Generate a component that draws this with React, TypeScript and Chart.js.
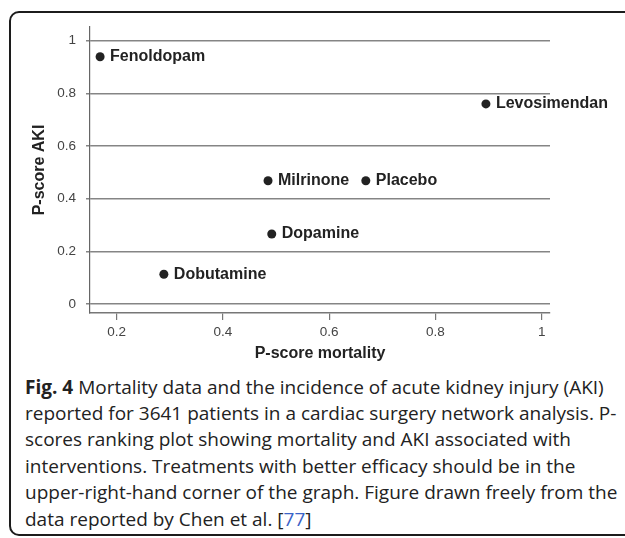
import React, { useEffect, useRef } from "react";
import { Chart, registerables } from "chart.js";

Chart.register(...registerables);

const treatments = ["Fenoldopam", "Levosimendan", "Milrinone", "Placebo", "Dopamine", "Dobutamine"];
const pScoreMortality = [0.169, 0.895, 0.485, 0.669, 0.492, 0.289];
const pScoreAKI = [0.939, 0.76, 0.468, 0.468, 0.266, 0.113];
const xTicks = [0.2, 0.4, 0.6, 0.8, 1];
const yTicks = [0, 0.2, 0.4, 0.6, 0.8, 1];
const xTitle = "P-score mortality";
const yTitle = "P-score AKI";

const captionLines = [
  "Mortality data and the incidence of acute kidney injury (AKI)",
  "reported for 3641 patients in a cardiac surgery network analysis. P-",
  "scores ranking plot showing mortality and AKI associated with",
  "interventions. Treatments with better efficacy should be in the",
  "upper-right-hand corner of the graph. Figure drawn freely from the",
  "data reported by Chen et al. ",
];

const FONT = "'Liberation Sans', Arial, sans-serif";

const pointLabels = {
  id: "pointLabels",
  afterDatasetsDraw(chart: any) {
    const ctx = chart.ctx;
    const meta = chart.getDatasetMeta(0);
    ctx.save();
    ctx.font = `bold 16px ${FONT}`;
    ctx.fillStyle = "#222";
    ctx.textAlign = "left";
    ctx.textBaseline = "middle";
    meta.data.forEach((pt: any, i: number) => {
      ctx.fillText(treatments[i], pt.x + 10, pt.y);
    });
    ctx.restore();
  },
};

const fmt = (v: number) => String(Math.round(v * 10) / 10);

export default function App() {
  const ref = useRef<HTMLCanvasElement>(null);
  useEffect(() => {
    if (!ref.current) return;
    const chart = new Chart(ref.current, {
      type: "scatter",
      data: {
        datasets: [
          {
            data: pScoreMortality.map((x, i) => ({ x, y: pScoreAKI[i] })),
            backgroundColor: "#222",
            borderWidth: 0,
            pointRadius: 4.5,
          },
        ],
      },
      options: {
        animation: false,
        responsive: false,
        devicePixelRatio: 1,
        layout: { padding: { left: 0, top: 27, right: 75, bottom: 0 } },
        plugins: { legend: { display: false }, tooltip: { enabled: false } },
        scales: {
          x: {
            type: "linear",
            position: "bottom",
            min: 0.15,
            max: 1.0156,
            afterBuildTicks: (s: any) => {
              s.ticks = xTicks.map((v) => ({ value: v }));
            },
            afterFit: (s: any) => {
              s.height = 57;
            },
            grid: { drawOnChartArea: false, drawTicks: true, tickLength: 7, color: "#777", lineWidth: 1.2 },
            border: { display: true, color: "#777", width: 1.5 },
            ticks: { font: { family: FONT, size: 13.5 }, color: "#444", padding: 4, callback: (v: any) => fmt(v), maxRotation: 0 },
            title: { display: true, text: xTitle, font: { family: FONT, size: 16, weight: "bold" }, color: "#222", padding: { top: 0, bottom: 7 } },
          },
          y: {
            type: "linear",
            position: "left",
            min: -0.0342,
            max: 1.052,
            afterBuildTicks: (s: any) => {
              s.ticks = yTicks.map((v) => ({ value: v }));
            },
            afterFit: (s: any) => {
              s.width = 90;
            },
            grid: { drawOnChartArea: true, drawTicks: true, tickLength: 4, color: "#858585", lineWidth: 1.5 },
            border: { display: true, color: "#666", width: 1.2 },
            ticks: { font: { family: FONT, size: 13.5 }, color: "#444", padding: 10, callback: (v: any) => fmt(v) },
            title: { display: true, text: yTitle, font: { family: FONT, size: 16, weight: "bold" }, color: "#222", padding: { top: 30, bottom: 0 } },
          },
        },
      },
      plugins: [pointLabels],
    });
    return () => chart.destroy();
  }, []);

  return (
    <div style={{ position: "absolute", left: 0, top: 0, width: 625, height: 538, overflow: "hidden", background: "#fff" }}>
      <div
        style={{
          position: "absolute",
          left: 9,
          top: 11,
          width: 700,
          height: 525,
          border: "2px solid #1c1c1c",
          borderRadius: 10,
          boxSizing: "border-box",
        }}
      />
      <canvas ref={ref} width={625} height={370} style={{ position: "absolute", left: 0, top: 0, width: 625, height: 370 }} />
      <div
        style={{
          position: "absolute",
          left: 25,
          top: 373.5,
          fontFamily: "'Open Sans', sans-serif",
          fontSize: 19,
          lineHeight: "26.4px",
          color: "#222",
          whiteSpace: "nowrap",
        }}
      >
        {captionLines.map((line, i) => (
          <div key={i}>
            {i === 0 && <b>Fig. 4 </b>}
            {line}
            {i === captionLines.length - 1 && (
              <span>
                [<span style={{ color: "#3a63c7" }}>77</span>]
              </span>
            )}
          </div>
        ))}
      </div>
    </div>
  );
}
